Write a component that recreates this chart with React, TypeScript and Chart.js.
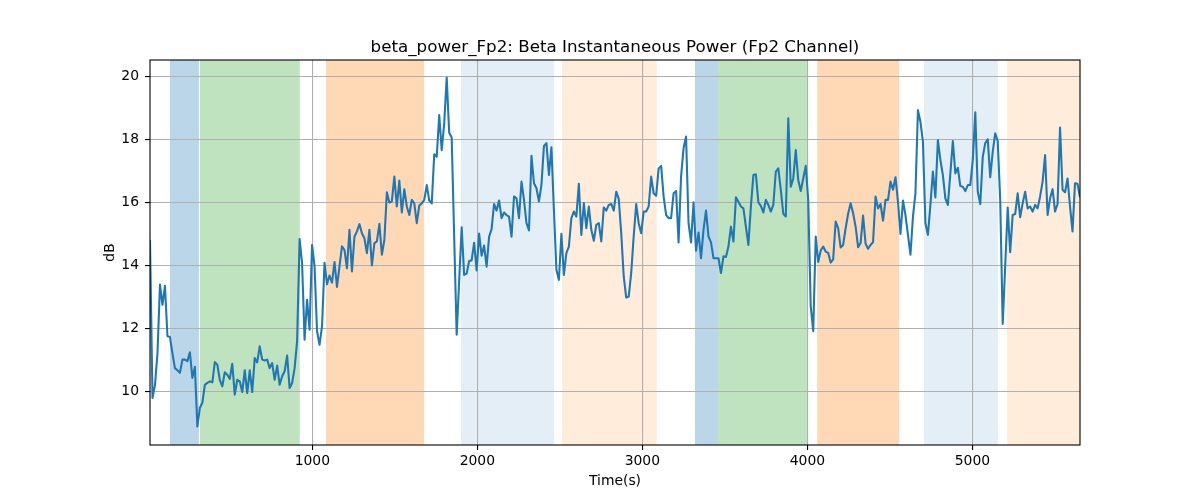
import React, { useEffect, useRef } from "react";
import { Chart, registerables } from "chart.js";

Chart.register(...registerables);

const TITLE = "beta_power_Fp2: Beta Instantaneous Power (Fp2 Channel)";
const X_LABEL = "Time(s)";
const Y_LABEL = "dB";

const X_MIN = 16.4;
const X_MAX = 5652;
const Y_MIN = 8.29;
const Y_MAX = 20.51;
const X_TICKS = [1000, 2000, 3000, 4000, 5000];
const Y_TICKS = [10, 12, 14, 16, 18, 20];

// beta power (dB), sampled uniformly from X_MIN to X_MAX
const VALUES = [
  14.8, 9.78, 10.2, 11.2, 13.38, 12.74, 13.34, 11.74, 11.72, 11.2, 10.73, 10.66, 10.58, 11.0, 11.0, 10.95,
  11.23, 10.42, 10.77, 8.88, 9.47, 9.63, 10.2, 10.26, 10.31, 10.28, 10.92, 10.84, 10.36, 10.15, 10.6, 10.52,
  10.39, 10.87, 9.89, 10.36, 10.31, 9.97, 10.66, 9.94, 10.66, 9.97, 11.05, 10.91, 11.42, 11.0, 10.97, 11.0,
  10.73, 10.89, 10.36, 10.81, 10.2, 10.47, 10.63, 11.13, 10.1, 10.26, 10.73, 11.58, 14.83, 14.06,
  11.63, 12.9, 11.95, 14.64, 13.96, 11.9, 11.47, 12.06, 14.07, 13.39, 13.67, 13.44, 14.1, 13.31, 13.96, 14.6,
  14.48, 13.9, 15.12, 13.8, 14.9, 15.07, 15.3, 15.01, 14.85, 14.38, 15.12, 13.99, 14.7, 14.75, 15.31, 14.33,
  14.8, 16.31, 15.99, 16.02, 16.81, 15.86, 16.68, 15.67, 16.41, 15.86, 15.59, 16.07, 15.96, 15.33, 15.89, 15.96,
  16.07, 16.54, 16.05, 15.96, 17.52, 17.44, 18.76, 17.65, 18.5, 19.95, 18.2, 18.05, 14.9, 11.79, 13.5, 15.2,
  13.69, 13.73, 14.13,
  14.15, 14.71, 13.83, 15.0, 14.3, 14.62, 13.95, 14.9, 15.14, 15.94, 15.73, 16.05, 15.49, 15.67, 15.59, 15.54,
  14.9, 16.18, 16.12, 15.49, 16.65, 16.07, 15.33, 15.1, 17.47, 16.6, 16.44, 16.02, 16.55, 17.78, 17.87, 16.86,
  17.74, 15.75, 13.85, 13.53, 14.99, 13.69, 14.38, 14.59, 15.49, 15.7, 15.54, 16.58, 14.96, 15.97, 15.17, 15.86,
  15.12, 14.77, 15.28, 15.33, 14.75, 15.83, 15.73, 15.91, 15.94, 15.73, 16.33, 16.1, 15.01, 13.64, 12.97, 13.0,
  13.75, 14.91, 15.94, 15.33, 15.01, 15.7, 15.7, 15.86, 16.81, 16.28, 16.2, 17.07, 17.15, 16.18, 15.59, 15.49,
  15.49, 16.28, 16.35, 14.72, 16.81, 17.71, 18.08, 15.33, 14.72, 15.99, 14.46, 15.03, 14.22, 15.12, 15.73, 14.91,
  14.72, 14.22, 14.22, 14.22, 13.75, 14.28, 14.26, 14.59, 15.22, 14.75, 16.15, 16.01, 15.86, 15.8, 15.22, 14.64,
  15.86, 16.86, 16.88, 15.99, 15.88, 15.67, 16.07, 15.91, 15.7, 15.91, 16.97, 17.07, 16.39, 15.63, 15.54, 18.66,
  16.49, 16.75, 17.65, 16.7, 16.35, 16.75, 17.15, 16.07, 12.69, 11.9, 14.91, 14.1, 14.46, 14.59, 14.43, 14.39,
  14.08, 14.18, 15.38, 15.17, 14.56, 14.64, 15.17, 15.63, 15.96, 15.65, 15.22, 14.57, 14.7, 15.57, 14.68, 14.52,
  14.64, 14.73, 16.18, 15.8, 15.94, 15.41, 16.07, 16.07, 16.65, 16.39, 16.79, 16.01, 14.99, 16.05, 15.59, 14.96,
  14.33, 15.54, 16.28, 18.92, 18.55, 17.92, 15.33, 14.96, 15.91, 16.97, 16.15, 17.97,
  17.34, 16.86, 16.12, 15.91, 16.91, 17.94, 16.91, 17.09, 16.51, 16.49, 16.35, 16.54, 16.54, 17.34, 18.85, 16.33,
  15.94, 17.44, 17.87, 17.99, 16.79, 17.6, 18.18, 17.94, 16.07, 12.13, 13.96, 15.83, 14.41, 15.59, 15.62, 16.28,
  15.52, 15.96, 16.33, 15.8, 15.86, 15.7, 15.91, 15.8, 16.18, 16.65, 17.49, 15.59, 16.12, 16.41, 15.7, 15.94,
  18.37, 16.39, 16.31, 16.75, 15.86, 15.07, 16.6, 16.58, 16.15,
];

// shaded intervals (seconds)
const SPAN_STARTS = [137, 319, 1083, 1901, 2513, 3319, 3459, 4059, 4707, 5210];
const SPAN_ENDS = [313, 924, 1677, 2465, 3087, 3459, 4000, 4556, 5154, 5700];
const SPAN_COLORS = [
  "rgba(31,119,180,0.3)",
  "rgba(44,160,44,0.3)",
  "rgba(255,127,14,0.3)",
  "rgba(31,119,180,0.12)",
  "rgba(255,127,14,0.15)",
  "rgba(31,119,180,0.3)",
  "rgba(44,160,44,0.3)",
  "rgba(255,127,14,0.3)",
  "rgba(31,119,180,0.12)",
  "rgba(255,127,14,0.15)",
];

const FONT = "DejaVu Sans";

const spansPlugin = {
  id: "spans",
  beforeDraw(chart: any) {
    const { ctx, chartArea, scales } = chart;
    const xs = scales.x;
    ctx.save();
    ctx.beginPath();
    ctx.rect(chartArea.left, chartArea.top, chartArea.right - chartArea.left, chartArea.bottom - chartArea.top);
    ctx.clip();
    for (let i = 0; i < SPAN_STARTS.length; i++) {
      const x1 = xs.getPixelForValue(SPAN_STARTS[i]);
      const x2 = xs.getPixelForValue(SPAN_ENDS[i]);
      ctx.fillStyle = SPAN_COLORS[i];
      ctx.fillRect(x1, chartArea.top, x2 - x1, chartArea.bottom - chartArea.top);
    }
    ctx.restore();
  },
};

const textPlugin = {
  id: "texts",
  afterDraw(chart: any) {
    const { ctx, chartArea } = chart;
    ctx.save();
    ctx.strokeStyle = "#000";
    ctx.lineWidth = 1.1;
    ctx.strokeRect(chartArea.left, chartArea.top, chartArea.right - chartArea.left, chartArea.bottom - chartArea.top);
    const cx = (chartArea.left + chartArea.right) / 2;
    ctx.fillStyle = "#000";
    ctx.textAlign = "center";
    ctx.textBaseline = "alphabetic";
    ctx.font = `16.7px "${FONT}"`;
    ctx.fillText(TITLE, cx, chartArea.top - 8.3);
    ctx.font = `13.9px "${FONT}"`;
    ctx.fillText(X_LABEL, cx, 485);
    ctx.translate(114, (chartArea.top + chartArea.bottom) / 2);
    ctx.rotate(-Math.PI / 2);
    ctx.fillText(Y_LABEL, 0, 0);
    ctx.restore();
  },
};

export default function App() {
  const ref = useRef<HTMLCanvasElement | null>(null);
  useEffect(() => {
    if (!ref.current) return;
    const step = (X_MAX - X_MIN) / (VALUES.length - 1);
    const points = VALUES.map((v, i) => ({ x: X_MIN + i * step, y: v }));
    const gridCommon = {
      color: "#b0b0b0",
      lineWidth: 1.1,
      tickColor: "#000",
      tickLength: 5,
      tickWidth: 1.1,
      drawTicks: true,
    };
    const chart = new Chart(ref.current, {
      type: "line",
      data: {
        datasets: [
          {
            data: points,
            borderColor: "#1f77b4",
            borderWidth: 2.08,
            pointRadius: 0,
            tension: 0,
            fill: false,
            borderJoinStyle: "round",
            borderCapStyle: "butt",
          },
        ],
      },
      options: {
        responsive: false,
        animation: false,
        devicePixelRatio: 1,
        layout: { padding: { left: 0, right: 120, top: 60, bottom: 0 } },
        plugins: {
          legend: { display: false },
          tooltip: { enabled: false },
          title: { display: false },
        },
        scales: {
          x: {
            type: "linear",
            min: X_MIN,
            max: X_MAX,
            afterFit: (s: any) => {
              s.height = 55;
            },
            afterBuildTicks: (s: any) => {
              s.ticks = X_TICKS.map((v) => ({ value: v }));
            },
            grid: gridCommon,
            border: { display: false },
            ticks: {
              color: "#000",
              font: { family: FONT, size: 13.9 },
              padding: 3,
              maxRotation: 0,
              autoSkip: false,
              callback: (v: any) => String(v),
            },
          },
          y: {
            type: "linear",
            min: Y_MIN,
            max: Y_MAX,
            afterFit: (s: any) => {
              s.width = 150;
            },
            afterBuildTicks: (s: any) => {
              s.ticks = Y_TICKS.map((v) => ({ value: v }));
            },
            grid: gridCommon,
            border: { display: false },
            ticks: {
              color: "#000",
              font: { family: FONT, size: 13.9 },
              padding: 6,
              autoSkip: false,
              callback: (v: any) => String(v),
            },
          },
        },
      } as any,
      plugins: [spansPlugin, textPlugin],
    });
    return () => chart.destroy();
  }, []);
  return (
    <div style={{ position: "absolute", left: 0, top: 0, width: 1200, height: 500, background: "#fff" }}>
      <canvas ref={ref} width={1200} height={500} style={{ width: 1200, height: 500 }} />
    </div>
  );
}
